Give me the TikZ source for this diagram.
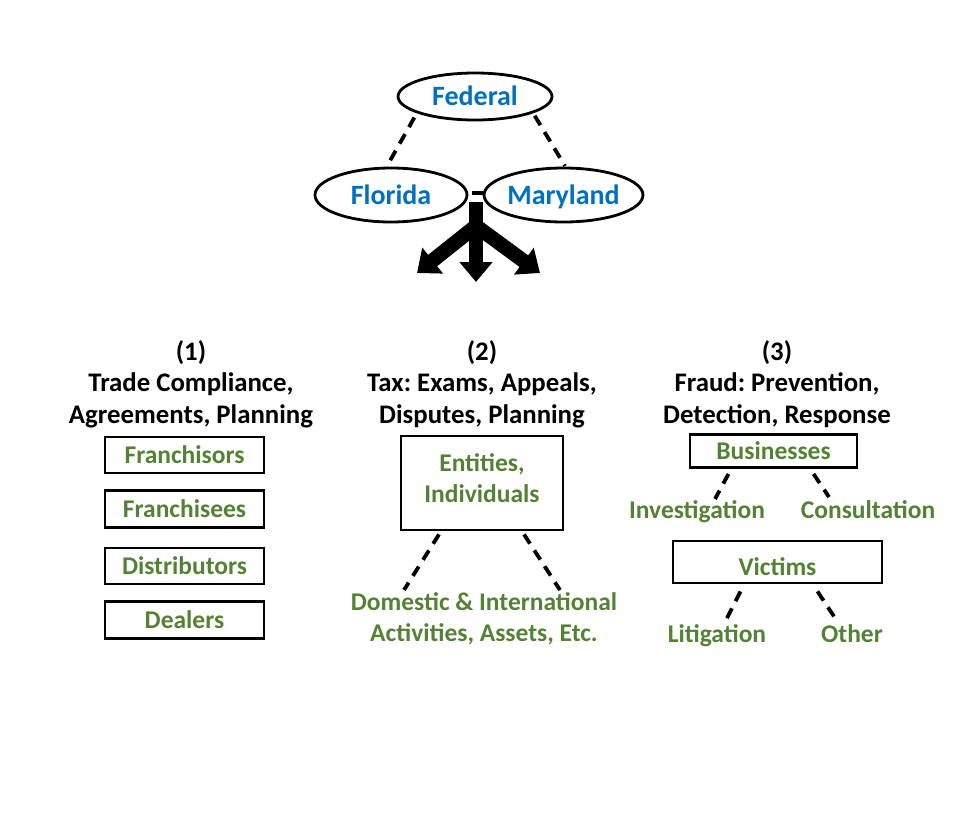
\documentclass[tikz,border=0pt]{standalone}
\usepackage{fontspec}
\setmainfont{Carlito}
\usetikzlibrary{shapes.geometric,arrows.meta}
\definecolor{fblue}{RGB}{0,112,192}
\definecolor{fgreen}{RGB}{84,130,53}
\frenchspacing
\begin{document}
\begin{tikzpicture}[x=1pt,y=-1pt,
  ell/.style={ellipse,draw,line width=2.8pt,inner sep=0pt,text height=23pt,text depth=5pt,font=\fontsize{28}{30}\selectfont\bfseries,text=fblue},
  gbox/.style={rectangle,draw,line width=2.8pt,inner sep=0pt,text height=22pt,text depth=5pt,font=\fontsize{25.5}{31}\selectfont\bfseries,text=fgreen},
  gtext/.style={inner sep=0pt,text height=22pt,text depth=5pt,font=\fontsize{25.5}{31}\selectfont\bfseries,text=fgreen},
  gmulti/.style={inner sep=0pt,font=\fontsize{25.5}{31}\selectfont\bfseries,text=fgreen,align=center},
  head/.style={inner sep=0pt,font=\fontsize{26.8}{31.5}\selectfont\bfseries,align=center},
  link/.style={line width=3.8pt,dash pattern=on 11pt off 8pt},
  big/.style={line width=14.5pt,-{Triangle[width=32pt,length=20pt]}}
]
\useasboundingbox (0,0) rectangle (980,828);

% top ellipses
\node[ell,minimum width=154pt,minimum height=47pt] (federal) at (475,96.5) {Federal};
\node[ell,minimum width=152pt,minimum height=54pt] (florida) at (391,195) {Florida};
\node[ell,minimum width=153pt,minimum height=54pt] (maryland) at (563.5,195) {Maryland};
\coordinate (fl1) at (387,166);
\coordinate (md1) at (565,166);
\draw[link,shorten <=5pt] (federal.196) -- (fl1);
\draw[link,shorten <=3pt] (federal.-16) -- (md1);
\coordinate (gap1) at (472,193);
\coordinate (gap2) at (483,193);
\draw[line width=3.2pt] (gap1) -- (gap2);

% thick arrows
\coordinate (stemtop) at (476,202);
\coordinate (fork) at (476,226);
\coordinate (tipc) at (476,282);
\coordinate (tipl) at (417,273);
\coordinate (tipr) at (540,273);
\draw[big] (fork) -- (tipl);
\draw[big] (fork) -- (tipr);
\draw[big] (stemtop) -- (tipc);

% column 1
\node[head] (h1) at (191,384) {(1)\\Trade Compliance,\\Agreements, Planning};
\node[gbox,minimum width=159pt,minimum height=36pt] (franchisors) at (184.5,455) {Franchisors};
\node[gbox,minimum width=159pt,minimum height=37pt] (franchisees) at (184.5,509) {Franchisees};
\node[gbox,minimum width=159pt,minimum height=36pt] (distributors) at (184.5,566) {Distributors};
\node[gbox,minimum width=159pt,minimum height=37pt] (dealers) at (184.5,620) {Dealers};

% column 2
\node[head] (h2) at (482,384) {(2)\\Tax: Exams, Appeals,\\Disputes, Planning};
\node[draw,line width=2.8pt,inner sep=0pt,minimum width=162pt,minimum height=94pt] (entities) at (482,483) {};
\node[gmulti] (entitiestext) at (482,478) {Entities,\\Individuals};
\node[gmulti] (domestic) at (484,619) {Domestic \& International\\Activities, Assets, Etc.};
\coordinate (d1) at (404,590);
\coordinate (d2) at (560,590);
\draw[link] ([xshift=-43pt,yshift=-3pt]entities.south) -- (d1);
\draw[link] ([xshift=42pt,yshift=-3pt]entities.south) -- (d2);

% column 3
\node[head] (h3) at (777,384) {(3)\\Fraud: Prevention,\\Detection, Response};
\node[gbox,minimum width=167pt,minimum height=33pt] (businesses) at (773.5,451) {Businesses};
\node[gtext] (investigation) at (697,510) {Investigation};
\node[gtext] (consultation) at (868,510) {Consultation};
\coordinate (i1) at (715,499);
\coordinate (c1) at (829,497);
\draw[link] ([xshift=-45pt,yshift=-5pt]businesses.south) -- (i1);
\draw[link] ([xshift=40pt,yshift=-5pt]businesses.south) -- (c1);
\node[gbox,minimum width=209pt,minimum height=42pt,text height=31pt] (victims) at (777.5,562) {Victims};
\node[gtext] (litigation) at (717,634) {Litigation};
\node[gtext] (other) at (852,634) {Other};
\coordinate (l1) at (725,622);
\coordinate (o1) at (837,621);
\draw[link] ([xshift=-37pt,yshift=-7pt]victims.south) -- (l1);
\draw[link] ([xshift=40pt,yshift=-7pt]victims.south) -- (o1);
\end{tikzpicture}
\end{document}
